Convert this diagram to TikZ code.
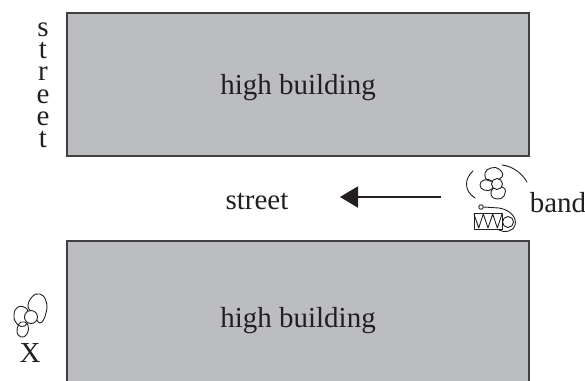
\documentclass[tikz,border=0pt]{standalone}
\usepackage{fontspec}
\setmainfont{Liberation Serif}
\usetikzlibrary{arrows.meta}
\definecolor{ink}{HTML}{231F20}
\definecolor{bldfill}{HTML}{BCBDC1}
\definecolor{bldline}{HTML}{404040}
\begin{document}
\begin{tikzpicture}[x=1pt,y=-1pt,
  building/.style={draw=bldline,fill=bldfill,line width=1.3pt},
  label/.style={text=ink,font=\fontsize{29}{33}\selectfont,inner sep=0pt,anchor=base},
  column/.style={text=ink,font=\fontsize{29}{22.2}\selectfont,inner sep=0pt,align=center,anchor=north},
  figline/.style={draw=ink,line width=0.9pt,line join=round,line cap=round},
  headfill/.style={figline,fill=white}]
\useasboundingbox (0,0) rectangle (585,380);
\clip (0,0) rectangle (585,380);

% the two buildings on either side of the street
\draw[building] (67,13) rectangle (529,156);
\draw[building] (67,241) rectangle (529,400);
\node[label] (hb1) at (298,94) {high building};
\node[label] (hb2) at (298,327) {high building};

% street name written down the side and along the street
\node[column] (vst) at (43,22.7) {s\\t\\r\\e\\e\\t};
\node[label] (st) at (257,209) {street};
\node[label] (band) at (558,212) {band};
\node[label] (xlab) at (30,362) {X};

% direction of the marching band
\coordinate (arrS) at (441,197);
\coordinate (arrE) at (340,197);
\draw[ink,line width=2pt,-{Triangle[length=18pt,width=21pt]}] (arrS) -- (arrE);

% band member seen from above, with sweeping arcs
\draw[figline] (473,171) .. controls (464,179) and (464,191) .. (475,198);
\draw[figline] (502,165) .. controls (512,166) and (522,173) .. (527,182);
\draw[figline] plot[smooth cycle,tension=0.8] coordinates {(489,181) (485,173) (491,168) (499,169) (502,177)};
\draw[figline] plot[smooth cycle,tension=0.8] coordinates {(492,181) (484,180) (480,185) (484,190) (492,189)};
\draw[figline] plot[smooth cycle,tension=0.8] coordinates {(494,188) (491,195) (497,199) (504,196) (504,188)};
\draw[headfill] (497,184) circle (5.5);

% drummer with drum
\draw[figline] (481,207) circle (2.3);
\draw[figline] (483.5,207) -- (499,208) .. controls (511,210) and (517,218) .. (515,225)
  .. controls (513,232) and (504,233) .. (499,230);
\draw[figline,fill=white] (474,213) rectangle (502,229);
\draw[figline] (474,214) -- (478.7,228) -- (483.3,214) -- (488,228) -- (492.7,214) -- (497.3,228) -- (502,214);
\draw[headfill] (508,222) circle (5.5);

% person X seen from above
\draw[figline] plot[smooth cycle,tension=0.8] coordinates {(28,307) (32,297) (40,294) (46,301) (46,313) (40,323) (33,313)};
\draw[figline] plot[smooth cycle,tension=0.8] coordinates {(27,309) (18,307) (14,315) (17,324) (25,326) (28,318)};
\draw[figline] plot[smooth cycle,tension=0.8] coordinates {(21,322) (17,331) (21,337) (27,334) (28,325)};
\draw[headfill] (31,317) circle (6.5);
\end{tikzpicture}
\end{document}
